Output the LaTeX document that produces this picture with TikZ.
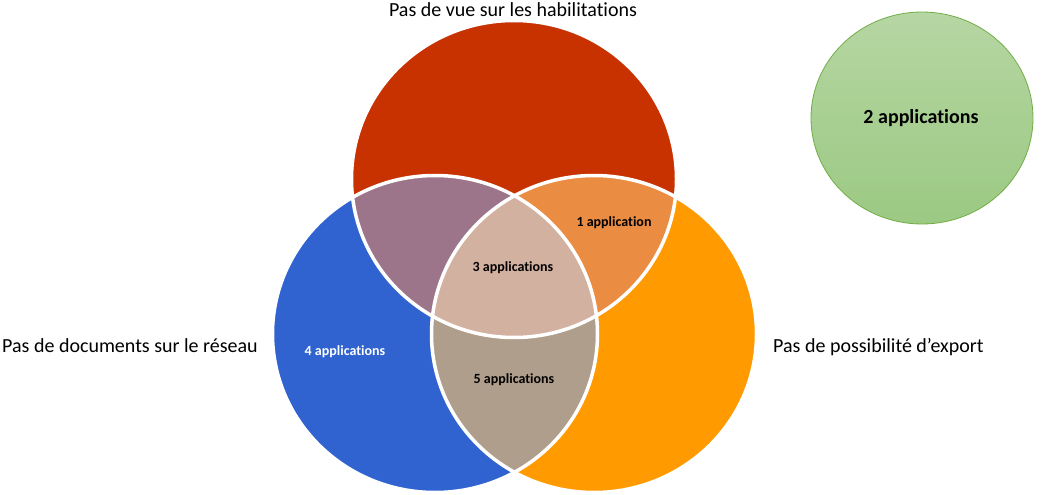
\documentclass[tikz,border=0pt]{standalone}
\usepackage{fontspec}
\setmainfont{Carlito}[Ligatures=NoCommon]
\usetikzlibrary{positioning}
\definecolor{rust}{RGB}{200,50,0}
\definecolor{royal}{RGB}{48,99,207}
\definecolor{amber}{RGB}{255,154,0}
\definecolor{mauve}{RGB}{157,117,138}
\definecolor{peach}{RGB}{235,140,67}
\definecolor{taupe}{RGB}{176,158,140}
\definecolor{sand}{RGB}{211,177,160}
\definecolor{leaftop}{RGB}{182,214,163}
\definecolor{leafbot}{RGB}{155,201,130}
\definecolor{leafline}{RGB}{112,173,71}

\begin{document}
\begin{tikzpicture}[x=1pt, y=-1pt]
    \tikzstyle{setname} = [font=\fontsize{20}{24}\selectfont, inner sep=0pt, anchor=base]
    \tikzstyle{count} = [font=\fontsize{14}{17}\selectfont\bfseries, inner sep=0pt]
    \tikzstyle{border} = [draw=white, line width=3.5pt]
    \tikzstyle{setshape} = [x radius=162.5pt, y radius=158.5pt]

    \useasboundingbox (0,0) rectangle (1058,495);

    \coordinate (vue) at (514,179);
    \coordinate (doc) at (435,334);
    \coordinate (exp) at (594,334);

    % the three sets
    \fill [rust] (vue) ellipse [setshape];
    \fill [royal] (doc) ellipse [setshape];
    \fill [amber] (exp) ellipse [setshape];
    \begin{scope}
        \clip (vue) ellipse [setshape];
        \fill [mauve] (doc) ellipse [setshape];
        \fill [peach] (exp) ellipse [setshape];
    \end{scope}
    \begin{scope}
        \clip (doc) ellipse [setshape];
        \fill [taupe] (exp) ellipse [setshape];
    \end{scope}
    \begin{scope}
        \clip (vue) ellipse [setshape];
        \clip (doc) ellipse [setshape];
        \fill [sand] (exp) ellipse [setshape];
    \end{scope}
    \draw [border] (vue) ellipse [setshape];
    \draw [border] (doc) ellipse [setshape];
    \draw [border] (exp) ellipse [setshape];

    % outside the sets
    \shade [top color=leaftop, bottom color=leafbot, draw=leafline, line width=0.8pt] (922,118) ellipse [x radius=111pt, y radius=106pt];

    \node [setname] (lvue) at (513,17) {Pas de vue sur les habilitations};
    \node [setname, anchor=base west] (ldoc) at (2,352) {Pas de documents sur le réseau};
    \node [setname, anchor=base west] (lexp) at (773,352) {Pas de possibilité d’export};

    \node [count] (n1) at (614,223) {1 application};
    \node [count] (n3) at (513,268) {3 applications};
    \node [count, text=white] (n4) at (345,352) {4 applications};
    \node [count] (n5) at (514,380) {5 applications};
    \node [count, font=\fontsize{20}{24}\selectfont\bfseries] (n2) at (921,118) {2 applications};
\end{tikzpicture}
\end{document}
